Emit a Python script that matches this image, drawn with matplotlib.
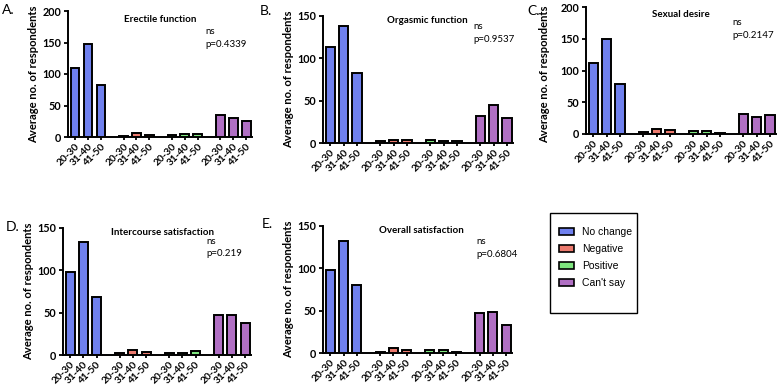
import numpy as np
import matplotlib
matplotlib.use("Agg")
import matplotlib.pyplot as plt
from matplotlib.patches import Patch, Rectangle

plt.rcParams["font.family"] = ["Lato", "DejaVu Sans"]

# ---------------------------------------------------------------- data
ages = ["20-30", "31-40", "41-50"]
responses = ["No change", "Negative", "Positive", "Can't say"]
colors = ["#6f80ee", "#ec7a6e", "#7fe67f", "#b06fc3"]

erectile = [[110, 148, 83], [1, 6, 3], [3, 4, 4], [35, 30, 26]]
orgasmic = [[113, 138, 83], [2, 4, 3], [3, 2, 2], [32, 45, 29]]
desire = [[112, 150, 79], [3, 8, 6], [4, 4, 2], [31, 27, 30]]
intercourse = [[98, 133, 69], [2, 6, 4], [2, 2, 5], [47, 47, 38]]
overall = [[98, 132, 80], [1, 6, 3], [4, 3, 1], [47, 48, 33]]

titles = ["Erectile function", "Orgasmic function", "Sexual desire",
          "Intercourse satisfaction", "Overall satisfaction"]
pvals = ["p=0.4339", "p=0.9537", "p=0.2147", "p=0.219", "p=0.6804"]
letters = ["A.", "B.", "C.", "D.", "E."]
ymax = [200, 150, 200, 150, 150]

# ---------------------------------------------------------------- layout (pixels -> figure fractions)
W, H = 777, 387
boxes = [(68, 252, 11, 137), (323, 513, 16, 143), (586, 776, 7, 134),
         (63, 251, 228, 355), (323, 512, 226, 353)]
title_pos = [(0.50, 0.97), (0.55, 1.0), (0.50, 0.98), (0.53, 1.0), (0.52, 1.0)]
p_pos = [(0.745, 0.87), (0.79, 0.95), (0.77, 0.91), (0.76, 0.93), (0.81, 0.91)]
letter_pos = [(2, 4), (260, 5), (527, 5), (6, 221), (262, 218)]

fig = plt.figure(figsize=(W / 100, H / 100), dpi=100)

datasets = [erectile, orgasmic, desire, intercourse, overall]
gstep = 3.75
for k, data in enumerate(datasets):
    l, r, t, b = boxes[k]
    ax = fig.add_axes([l / W, 1 - b / H, (r - l) / W, (b - t) / H])
    xs, labs = [], []
    for g, vals in enumerate(data):
        x = g * gstep + np.arange(3)
        ax.bar(x, vals, width=0.68, color=colors[g], edgecolor="black",
               linewidth=1.4, zorder=3)
        xs.extend(x)
        labs.extend(ages)
    ax.set_xticks(xs)
    ax.set_xticklabels(labs, rotation=45, ha="right", rotation_mode="anchor",
                       fontsize=7.3, fontweight="bold")
    ax.set_xlim(-0.55, 3 * gstep + 2.45)
    ax.set_ylim(0, ymax[k])
    ax.set_yticks(np.arange(0, ymax[k] + 1, 50))
    ax.tick_params(axis="y", labelsize=7.8, width=1.3, length=3, pad=2)
    ax.tick_params(axis="x", width=1.3, length=2.5, pad=1)
    for lab in ax.get_yticklabels():
        lab.set_fontweight("bold")
    for s in ["top", "right"]:
        ax.spines[s].set_visible(False)
    for s in ["left", "bottom"]:
        ax.spines[s].set_linewidth(1.4)
    ax.set_ylabel("Average no. of respondents", fontsize=8.1,
                  fontweight="bold", labelpad=2)
    if k == 2:
        ax.yaxis.set_label_coords(-0.19, 0.47)
    ax.text(title_pos[k][0], title_pos[k][1], titles[k], transform=ax.transAxes,
            ha="center", va="top", fontsize=7, fontweight="bold")
    ax.text(p_pos[k][0], p_pos[k][1], "ns\n" + pvals[k], transform=ax.transAxes,
            ha="left", va="top", fontsize=7, linespacing=1.5)
    fig.text(letter_pos[k][0] / W, 1 - letter_pos[k][1] / H, letters[k],
             ha="left", va="top", fontsize=10)

# legend box drawn separately so its padding can differ per side
fig.patches.append(Rectangle((550 / W, 1 - 313 / H), 87 / W, 100 / H,
                             transform=fig.transFigure, fill=False,
                             edgecolor="black", linewidth=1.0))
handles = [Patch(facecolor=c, edgecolor="black", linewidth=1.2) for c in colors]
fig.legend(handles, responses, loc="upper left",
           bbox_to_anchor=(559 / W, 1 - 227 / H),
           frameon=False, prop={"family": "Liberation Sans", "size": 7.5},
           borderpad=0, handlelength=1.45, handleheight=0.7,
           labelspacing=0.68, handletextpad=0.75, borderaxespad=0)

fig.savefig("out.png", dpi=100)
